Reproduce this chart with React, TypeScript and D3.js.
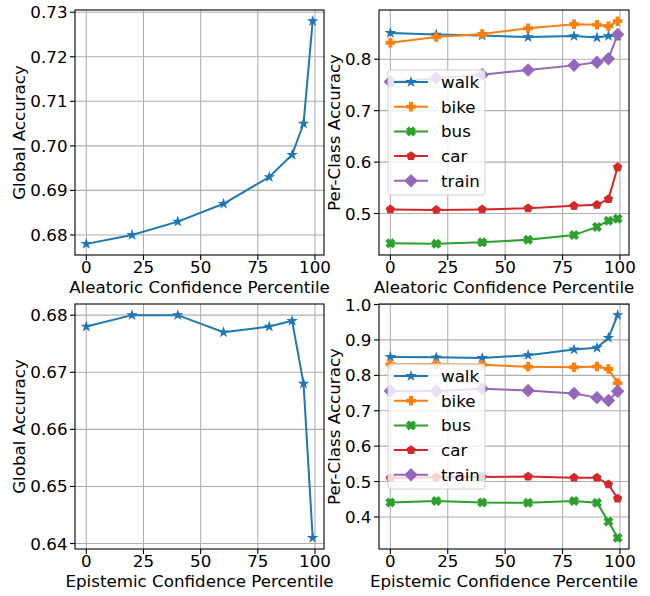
import { useEffect, useRef } from 'react';
import * as d3 from 'd3';

const percentiles = [0, 20, 40, 60, 80, 90, 95, 99];

const aleatoricGlobal = [0.678, 0.680, 0.683, 0.687, 0.693, 0.698, 0.705, 0.728];
const epistemicGlobal = [0.678, 0.680, 0.680, 0.677, 0.678, 0.679, 0.668, 0.641];

const classNames = ['walk', 'bike', 'bus', 'car', 'train'];
const classColors = ['#1f77b4', '#ff7f0e', '#2ca02c', '#d62728', '#9467bd'];
const classMarkers = ['star', 'plus', 'x', 'pentagon', 'diamond'];

const aleatoricWalk = [0.851, 0.848, 0.846, 0.843, 0.845, 0.842, 0.845, 0.845];
const aleatoricBike = [0.832, 0.843, 0.849, 0.860, 0.868, 0.867, 0.864, 0.874];
const aleatoricBus = [0.442, 0.441, 0.444, 0.449, 0.458, 0.474, 0.486, 0.490];
const aleatoricCar = [0.508, 0.507, 0.508, 0.510, 0.515, 0.517, 0.528, 0.590];
const aleatoricTrain = [0.756, 0.763, 0.770, 0.779, 0.788, 0.794, 0.801, 0.848];

const epistemicWalk = [0.852, 0.851, 0.849, 0.857, 0.873, 0.878, 0.906, 0.970];
const epistemicBike = [0.831, 0.832, 0.830, 0.824, 0.823, 0.825, 0.818, 0.778];
const epistemicBus = [0.441, 0.445, 0.441, 0.440, 0.445, 0.440, 0.387, 0.341];
const epistemicCar = [0.510, 0.512, 0.513, 0.514, 0.511, 0.511, 0.492, 0.452];
const epistemicTrain = [0.756, 0.756, 0.762, 0.757, 0.749, 0.737, 0.729, 0.755];

const xTicks = [0, 25, 50, 75, 100];
const aleatoricGlobalTicks = [0.68, 0.69, 0.70, 0.71, 0.72, 0.73];
const epistemicGlobalTicks = [0.64, 0.65, 0.66, 0.67, 0.68];
const aleatoricClassTicks = [0.5, 0.6, 0.7, 0.8];
const epistemicClassTicks = [0.4, 0.5, 0.6, 0.7, 0.8, 0.9, 1.0];

const FONT = 'DejaVu Sans, sans-serif';
const FS = 16.7;

// marker paths in pixel units, centred at 0,0 (matplotlib markersize 6 at 100dpi)
const S = 8.3;
const polyPath = (pts: number[][]) => 'M' + pts.map(p => p.join(',')).join('L') + 'Z';
const markerPath = (kind: string) => {
    if (kind === 'star') {
        const pts: number[][] = [];
        for (let i = 0; i < 10; i++) {
            const r = i % 2 === 0 ? S / 2 : (S / 2) * 0.381966;
            const a = -Math.PI / 2 + (i * Math.PI) / 5;
            pts.push([r * Math.cos(a), r * Math.sin(a)]);
        }
        return polyPath(pts);
    }
    if (kind === 'pentagon') {
        const pts: number[][] = [];
        for (let i = 0; i < 5; i++) {
            const a = -Math.PI / 2 + (i * 2 * Math.PI) / 5;
            pts.push([(S / 2) * Math.cos(a), (S / 2) * Math.sin(a)]);
        }
        return polyPath(pts);
    }
    if (kind === 'plus') {
        const v = [[-1, -3], [1, -3], [1, -1], [3, -1], [3, 1], [1, 1], [1, 3], [-1, 3], [-1, 1], [-3, 1], [-3, -1], [-1, -1]];
        return polyPath(v.map(([a, b]) => [(a / 6) * S, (b / 6) * S]));
    }
    if (kind === 'x') {
        const v = [[-1, -2], [0, -1], [1, -2], [2, -1], [1, 0], [2, 1], [1, 2], [0, 1], [-1, 2], [-2, 1], [-1, 0], [-2, -1]];
        return polyPath(v.map(([a, b]) => [(a / 4) * S, (b / 4) * S]));
    }
    const h = (S * Math.SQRT2) / 2;
    return polyPath([[0, -h], [h, 0], [0, h], [-h, 0]]);
};

const padDomain = (vals: number[]) => {
    const lo = d3.min(vals) as number;
    const hi = d3.max(vals) as number;
    const m = (hi - lo) * 0.05;
    return [lo - m, hi + m];
};

type Series = { name: string; color: string; marker: string; values: number[] };

type Panel = {
    box: { x0: number; x1: number; y0: number; y1: number };
    series: Series[];
    yTicks: number[];
    yFormat: string;
    yLabel: string;
    xLabel: string;
    legend: boolean;
};

const classSeries = (vals: number[][]): Series[] =>
    classNames.map((name, i) => ({ name, color: classColors[i], marker: classMarkers[i], values: vals[i] }));

const panels: Panel[] = [
    {
        box: { x0: 75, x1: 324, y0: 10, y1: 255 },
        series: [{ name: 'global', color: classColors[0], marker: 'star', values: aleatoricGlobal }],
        yTicks: aleatoricGlobalTicks, yFormat: '.2f',
        yLabel: 'Global Accuracy', xLabel: 'Aleatoric Confidence Percentile', legend: false,
    },
    {
        box: { x0: 379, x1: 629, y0: 10, y1: 255 },
        series: classSeries([aleatoricWalk, aleatoricBike, aleatoricBus, aleatoricCar, aleatoricTrain]),
        yTicks: aleatoricClassTicks, yFormat: '.1f',
        yLabel: 'Per-Class Accuracy', xLabel: 'Aleatoric Confidence Percentile', legend: true,
    },
    {
        box: { x0: 75, x1: 324, y0: 304, y1: 549 },
        series: [{ name: 'global', color: classColors[0], marker: 'star', values: epistemicGlobal }],
        yTicks: epistemicGlobalTicks, yFormat: '.2f',
        yLabel: 'Global Accuracy', xLabel: 'Epistemic Confidence Percentile', legend: false,
    },
    {
        box: { x0: 379, x1: 629, y0: 304, y1: 549 },
        series: classSeries([epistemicWalk, epistemicBike, epistemicBus, epistemicCar, epistemicTrain]),
        yTicks: epistemicClassTicks, yFormat: '.1f',
        yLabel: 'Per-Class Accuracy', xLabel: 'Epistemic Confidence Percentile', legend: true,
    },
];

const App = () => {
    const svgRef = useRef<SVGSVGElement>(null);

    useEffect(() => {
        const svg = d3.select(svgRef.current);
        svg.selectAll('*').remove();

        panels.forEach(p => {
            const { x0, x1, y0, y1 } = p.box;
            const x = d3.scaleLinear().domain(padDomain(percentiles)).range([x0, x1]);
            const y = d3.scaleLinear().domain(padDomain(p.series.flatMap(s => s.values))).range([y1, y0]);
            const g = svg.append('g');

            // grid
            g.selectAll('.vgrid').data(xTicks).enter().append('line')
                .attr('x1', d => x(d)).attr('x2', d => x(d))
                .attr('y1', y0).attr('y2', y1)
                .attr('stroke', '#b0b0b0').attr('stroke-width', 1.1);
            g.selectAll('.hgrid').data(p.yTicks).enter().append('line')
                .attr('x1', x0).attr('x2', x1)
                .attr('y1', d => y(d)).attr('y2', d => y(d))
                .attr('stroke', '#b0b0b0').attr('stroke-width', 1.1);

            // series
            const line = d3.line<number>().x((_, i) => x(percentiles[i])).y(d => y(d));
            p.series.forEach(s => {
                g.append('path')
                    .attr('d', line(s.values))
                    .attr('fill', 'none')
                    .attr('stroke', s.color)
                    .attr('stroke-width', 2);
                g.selectAll(null).data(s.values).enter().append('path')
                    .attr('d', markerPath(s.marker))
                    .attr('transform', (d, i) => `translate(${x(percentiles[i])},${y(d)})`)
                    .attr('fill', s.color)
                    .attr('stroke', s.color)
                    .attr('stroke-width', 1.2)
                    .attr('stroke-linejoin', 'miter');
            });

            // spines
            g.append('rect')
                .attr('x', x0).attr('y', y0).attr('width', x1 - x0).attr('height', y1 - y0)
                .attr('fill', 'none').attr('stroke', '#000').attr('stroke-width', 1.1);

            // x ticks
            xTicks.forEach(t => {
                g.append('line').attr('x1', x(t)).attr('x2', x(t)).attr('y1', y1).attr('y2', y1 + 5)
                    .attr('stroke', '#000').attr('stroke-width', 1.1);
                g.append('text').text(t)
                    .attr('x', x(t)).attr('y', y1 + 17.5)
                    .attr('text-anchor', 'middle')
                    .style('font-family', FONT).style('font-size', `${FS}px`);
            });
            g.append('text').text(p.xLabel)
                .attr('x', (x0 + x1) / 2).attr('y', y1 + 38)
                .attr('text-anchor', 'middle')
                .style('font-family', FONT).style('font-size', `${FS}px`);

            // y ticks
            const fmt = d3.format(p.yFormat);
            p.yTicks.forEach(t => {
                g.append('line').attr('x1', x0 - 5).attr('x2', x0).attr('y1', y(t)).attr('y2', y(t))
                    .attr('stroke', '#000').attr('stroke-width', 1.1);
                g.append('text').text(fmt(t))
                    .attr('x', x0 - 7.5).attr('y', y(t))
                    .attr('text-anchor', 'end').attr('dominant-baseline', 'central')
                    .style('font-family', FONT).style('font-size', `${FS}px`);
            });
            const labelX = p.yFormat === '.2f' ? x0 - 50 : x0 - 39;
            g.append('text').text(p.yLabel)
                .attr('transform', `translate(${labelX},${(y0 + y1) / 2}) rotate(-90)`)
                .attr('text-anchor', 'middle')
                .style('font-family', FONT).style('font-size', `${FS}px`);

            // legend
            if (p.legend) {
                const lx = x0 + 9;
                const ly = y0 + 60;
                const lg = g.append('g').attr('transform', `translate(${lx},${ly})`);
                lg.append('rect')
                    .attr('x', 0).attr('y', 0).attr('width', 97).attr('height', 125)
                    .attr('rx', 3).attr('ry', 3)
                    .attr('fill', 'rgba(255,255,255,0.8)')
                    .attr('stroke', '#d0d0d0').attr('stroke-width', 1);
                p.series.forEach((s, i) => {
                    const cy = 12 + i * 24.7;
                    lg.append('line').attr('x1', 6).attr('x2', 40).attr('y1', cy).attr('y2', cy)
                        .attr('stroke', s.color).attr('stroke-width', 2);
                    lg.append('path').attr('d', markerPath(s.marker))
                        .attr('transform', `translate(23,${cy})`)
                        .attr('fill', s.color).attr('stroke', s.color).attr('stroke-width', 1.2);
                    lg.append('text').text(s.name)
                        .attr('x', 53).attr('y', cy)
                        .attr('dominant-baseline', 'central')
                        .style('font-family', FONT).style('font-size', `${FS}px`);
                });
            }
        });
    }, []);

    return (
        <svg
            ref={svgRef}
            width={650}
            height={596}
            style={{ position: 'absolute', left: 0, top: 0, background: '#fff' }}
        />
    );
};

export default App;
